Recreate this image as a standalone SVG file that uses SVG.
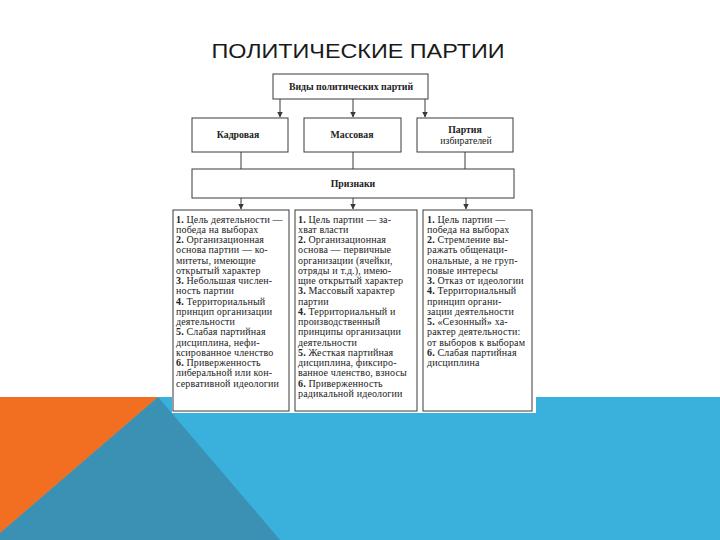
<svg xmlns="http://www.w3.org/2000/svg" width="720" height="540" viewBox="0 0 720 540">
<style>
.box{fill:#fff;stroke:#3a3a3a;stroke-width:1}
.ln{stroke:#3a3a3a;stroke-width:1;fill:none}
.hd{font-family:"Liberation Serif","DejaVu Serif",serif;font-size:9.8px;font-weight:bold;fill:#222;text-anchor:middle}
.tx{font-family:"Liberation Serif","DejaVu Serif",serif;font-size:10px;letter-spacing:0.15px;fill:#222}
.tx .n{font-weight:bold}
.title{font-family:"Liberation Sans","DejaVu Sans",sans-serif;font-size:21px;fill:#1a1a1a;text-anchor:middle}
</style>
<defs>
<marker id="ah" viewBox="0 0 6 6" refX="5.5" refY="3" markerWidth="6" markerHeight="6" markerUnits="userSpaceOnUse" orient="auto">
<path d="M0,0 L6,3 L0,6 Z" fill="#3a3a3a"/>
</marker>
</defs>
<rect width="720" height="540" fill="#fff"/>
<g id="background">
<rect x="0" y="397" width="720" height="143" fill="#3ab0dc"/>
<polygon points="158,397 280,540 0,540 0,533" fill="#3a91b4"/>
<polygon points="0,397 158,397 0,533" fill="#f26f21"/>
<rect x="172" y="72" width="364" height="341" fill="#fff"/>
</g>
<text class="title" x="358" y="58" textLength="293" lengthAdjust="spacingAndGlyphs">ПОЛИТИЧЕСКИЕ ПАРТИИ</text>
<g id="connectors">
<line class="ln" x1="280" y1="99" x2="280" y2="117" marker-end="url(#ah)"/>
<line class="ln" x1="353" y1="99" x2="353" y2="117" marker-end="url(#ah)"/>
<line class="ln" x1="425" y1="99" x2="425" y2="117" marker-end="url(#ah)"/>
<line class="ln" x1="241" y1="152" x2="241" y2="169"/>
<line class="ln" x1="353" y1="152" x2="353" y2="169"/>
<line class="ln" x1="465" y1="152" x2="465" y2="169"/>
<line class="ln" x1="241" y1="198" x2="241" y2="209" marker-end="url(#ah)"/>
<line class="ln" x1="353" y1="198" x2="353" y2="209" marker-end="url(#ah)"/>
<line class="ln" x1="466" y1="198" x2="466" y2="209" marker-end="url(#ah)"/>
</g>
<g id="vidy">
<rect class="box" x="273" y="74" width="155" height="25"/>
<text class="hd" x="351" y="90">Виды политических партий</text>
</g>
<g id="kadrovaya">
<rect class="box" x="192" y="118" width="96" height="34"/>
<text class="hd" x="238" y="138">Кадровая</text>
</g>
<g id="massovaya">
<rect class="box" x="304" y="118" width="97" height="34"/>
<text class="hd" x="352" y="138">Массовая</text>
</g>
<g id="izbirateley">
<rect class="box" x="417" y="118" width="96" height="34"/>
<text class="hd" x="465" y="133">Партия</text>
<text class="hd" x="466" y="144" style="font-weight:normal">избирателей</text>
</g>
<g id="priznaki">
<rect class="box" x="192" y="169" width="322" height="29"/>
<text class="hd" x="353" y="187">Признаки</text>
</g>
<g id="left-features">
<rect class="box" x="173" y="210" width="116" height="201"/>
<text class="tx" x="176" y="222.5">
<tspan x="176"><tspan class="n">1.</tspan> Цель деятельности —</tspan>
<tspan x="176" dy="10.25">победа на выборах</tspan>
<tspan x="176" dy="10.25"><tspan class="n">2.</tspan> Организационная</tspan>
<tspan x="176" dy="10.25">основа партии — ко-</tspan>
<tspan x="176" dy="10.25">митеты, имеющие</tspan>
<tspan x="176" dy="10.25">открытый характер</tspan>
<tspan x="176" dy="10.25"><tspan class="n">3.</tspan> Небольшая числен-</tspan>
<tspan x="176" dy="10.25">ность партии</tspan>
<tspan x="176" dy="10.25"><tspan class="n">4.</tspan> Территориальный</tspan>
<tspan x="176" dy="10.25">принцип организации</tspan>
<tspan x="176" dy="10.25">деятельности</tspan>
<tspan x="176" dy="10.25"><tspan class="n">5.</tspan> Слабая партийная</tspan>
<tspan x="176" dy="10.25">дисциплина, нефи-</tspan>
<tspan x="176" dy="10.25">ксированное членство</tspan>
<tspan x="176" dy="10.25"><tspan class="n">6.</tspan> Приверженность</tspan>
<tspan x="176" dy="10.25">либеральной или кон-</tspan>
<tspan x="176" dy="10.25">сервативной идеологии</tspan>
</text>
</g>
<g id="middle-features">
<rect class="box" x="295" y="210" width="122" height="201"/>
<text class="tx" x="298" y="222.5">
<tspan x="298"><tspan class="n">1.</tspan> Цель партии — за-</tspan>
<tspan x="298" dy="10.25">хват власти</tspan>
<tspan x="298" dy="10.25"><tspan class="n">2.</tspan> Организационная</tspan>
<tspan x="298" dy="10.25">основа — первичные</tspan>
<tspan x="298" dy="10.25">организации (ячейки,</tspan>
<tspan x="298" dy="10.25">отряды и т.д.), имею-</tspan>
<tspan x="298" dy="10.25">щие открытый характер</tspan>
<tspan x="298" dy="10.25"><tspan class="n">3.</tspan> Массовый характер</tspan>
<tspan x="298" dy="10.25">партии</tspan>
<tspan x="298" dy="10.25"><tspan class="n">4.</tspan> Территориальный и</tspan>
<tspan x="298" dy="10.25">производственный</tspan>
<tspan x="298" dy="10.25">принципы организации</tspan>
<tspan x="298" dy="10.25">деятельности</tspan>
<tspan x="298" dy="10.25"><tspan class="n">5.</tspan> Жесткая партийная</tspan>
<tspan x="298" dy="10.25">дисциплина, фиксиро-</tspan>
<tspan x="298" dy="10.25">ванное членство, взносы</tspan>
<tspan x="298" dy="10.25"><tspan class="n">6.</tspan> Приверженность</tspan>
<tspan x="298" dy="10.25">радикальной идеологии</tspan>
</text>
</g>
<g id="right-features">
<rect class="box" x="423" y="210" width="109" height="201"/>
<text class="tx" x="427" y="222.5">
<tspan x="427"><tspan class="n">1.</tspan> Цель партии —</tspan>
<tspan x="427" dy="10.25">победа на выборах</tspan>
<tspan x="427" dy="10.25"><tspan class="n">2.</tspan> Стремление вы-</tspan>
<tspan x="427" dy="10.25">ражать общенаци-</tspan>
<tspan x="427" dy="10.25">ональные, а не груп-</tspan>
<tspan x="427" dy="10.25">повые интересы</tspan>
<tspan x="427" dy="10.25"><tspan class="n">3.</tspan> Отказ от идеологии</tspan>
<tspan x="427" dy="10.25"><tspan class="n">4.</tspan> Территориальный</tspan>
<tspan x="427" dy="10.25">принцип органи-</tspan>
<tspan x="427" dy="10.25">зации деятельности</tspan>
<tspan x="427" dy="10.25"><tspan class="n">5.</tspan> «Сезонный» ха-</tspan>
<tspan x="427" dy="10.25">рактер деятельности:</tspan>
<tspan x="427" dy="10.25">от выборов к выборам</tspan>
<tspan x="427" dy="10.25"><tspan class="n">6.</tspan> Слабая партийная</tspan>
<tspan x="427" dy="10.25">дисциплина</tspan>
</text>
</g>
</svg>
